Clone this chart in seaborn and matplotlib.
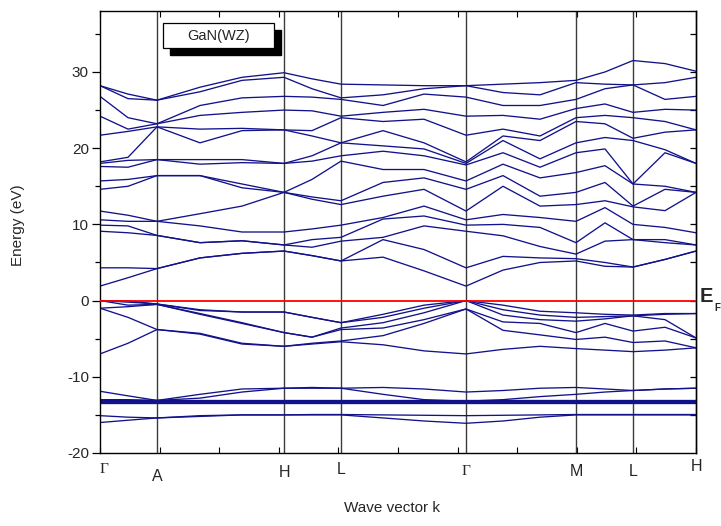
import numpy as np
import pandas as pd
import matplotlib
matplotlib.use("Agg")
import matplotlib.pyplot as plt
import seaborn as sns
from matplotlib.patches import Rectangle

# ---------------- data ----------------
# k coordinate of every node along the path (arbitrary units)
k_nodes = [0, 28, 57, 100, 142, 184, 212, 241, 283, 324, 366, 403, 440, 476, 505, 533, 565, 596]
sym_k = [0, 57, 184, 241, 366, 476, 533, 596]
sym_labels = ["\u0393", "A", "H", "L", "\u0393", "M", "L", "H"]

# conduction-band energies (eV) at each node, sorted
c_G1  = [1.9, 4.3, 9.1, 9.9, 10.6, 11.75, 14.6, 15.7, 17.6, 18.0, 18.2, 21.7, 24.2, 26.8, 28.2, 28.2]
c_GA  = [3.0, 4.3, 8.9, 9.8, 10.4, 11.2, 15.0, 15.9, 17.5, 18.4, 18.8, 22.2, 22.5, 24.0, 26.5, 27.1]
c_A   = [4.2, 4.2, 8.55, 8.55, 10.4, 10.4, 16.4, 16.4, 18.5, 18.5, 22.8, 22.8, 23.2, 23.2, 26.3, 26.3]
c_AH1 = [5.6, 5.6, 7.6, 7.6, 9.8, 11.4, 16.4, 16.4, 17.9, 18.5, 20.7, 22.5, 24.3, 25.6, 27.4, 28.0]
c_AH2 = [6.2, 6.2, 7.85, 7.85, 9.0, 12.4, 14.8, 15.3, 18.1, 18.5, 22.3, 22.6, 24.7, 26.6, 28.9, 29.3]
c_H1  = [6.5, 6.5, 7.3, 7.3, 9.0, 14.2, 14.2, 14.2, 18.0, 18.0, 22.4, 22.4, 25.0, 26.8, 29.3, 29.9]
c_HL  = [5.9, 5.9, 7.0, 8.0, 9.4, 13.3, 13.6, 15.9, 18.3, 19.0, 21.6, 22.3, 24.9, 26.7, 27.8, 29.1]
c_L1  = [5.2, 5.2, 7.8, 8.3, 9.9, 12.6, 13.1, 18.3, 19.0, 20.7, 20.7, 24.0, 24.2, 26.4, 26.6, 28.4]
c_LG1 = [5.7, 8.0, 8.3, 10.7, 10.9, 13.7, 15.5, 17.2, 19.6, 20.3, 22.3, 23.5, 24.7, 25.6, 27.0, 28.3]
c_LG2 = [3.9, 6.7, 9.8, 11.1, 12.4, 14.6, 16.1, 17.2, 19.0, 19.9, 20.7, 23.8, 25.1, 27.1, 27.8, 28.2]
c_G2  = [1.9, 4.3, 9.1, 9.9, 10.6, 11.75, 14.6, 15.7, 17.8, 18.0, 18.2, 21.7, 24.2, 26.7, 28.2, 28.2]
c_GM1 = [4.0, 5.8, 8.5, 10.0, 11.3, 15.0, 16.4, 17.9, 19.4, 21.0, 21.6, 22.5, 24.3, 25.6, 27.3, 28.4]
c_GM2 = [5.0, 5.6, 7.1, 9.6, 10.9, 12.4, 13.7, 16.1, 17.5, 18.6, 21.0, 21.6, 23.8, 25.6, 27.0, 28.6]
c_M   = [5.2, 5.5, 6.1, 7.6, 10.4, 12.6, 14.2, 16.8, 19.4, 20.7, 23.5, 24.0, 25.2, 26.4, 28.6, 28.9]
c_ML  = [4.5, 5.0, 7.8, 10.2, 12.2, 13.1, 15.5, 17.7, 19.9, 21.4, 23.2, 24.3, 25.8, 27.8, 28.4, 30.0]
c_L2  = [4.4, 4.4, 8.0, 8.0, 10.0, 12.3, 12.4, 15.3, 15.3, 21.0, 21.3, 24.0, 24.7, 28.3, 28.3, 31.5]
c_LH  = [5.4, 5.4, 7.6, 8.0, 9.6, 11.8, 14.6, 15.0, 19.4, 19.8, 22.1, 23.5, 25.1, 26.4, 28.6, 31.1]
c_H2  = [6.5, 6.5, 7.3, 7.3, 8.9, 14.2, 14.2, 14.2, 18.0, 18.0, 22.4, 22.4, 25.0, 26.8, 29.3, 30.1]

# valence-band energies (eV) at each node, sorted
v_G1  = [-7.0, -1.0, -1.0, 0.0, 0.0, 0.0]
v_GA  = [-5.6, -2.2, -0.8, -0.6, -0.2, -0.05]
v_A   = [-3.8, -3.8, -0.5, -0.5, -0.45, -0.45]
v_AH1 = [-4.4, -4.3, -1.8, -1.7, -1.3, -1.2]
v_AH2 = [-5.7, -5.6, -3.0, -2.9, -1.5, -1.5]
v_H1  = [-6.0, -6.0, -4.2, -4.2, -1.5, -1.5]
v_HL  = [-5.7, -5.6, -4.8, -4.8, -2.2, -2.2]
v_L1  = [-5.4, -5.3, -3.8, -3.6, -2.9, -2.9]
v_LG1 = [-5.8, -4.6, -3.6, -2.9, -2.2, -1.8]
v_LG2 = [-6.6, -3.0, -2.5, -1.6, -1.0, -0.6]
v_G2  = [-7.0, -1.1, -1.1, 0.0, 0.0, 0.0]
v_GM1 = [-6.4, -3.9, -2.8, -1.9, -1.2, -0.6]
v_GM2 = [-6.0, -4.5, -3.0, -2.5, -1.9, -1.4]
v_M   = [-6.3, -5.1, -4.2, -2.7, -2.2, -1.6]
v_ML  = [-6.5, -4.8, -3.0, -2.4, -2.1, -1.8]
v_L2  = [-6.7, -5.5, -4.0, -2.0, -2.0, -1.9]
v_LH  = [-6.5, -5.3, -3.5, -2.5, -1.8, -1.7]
v_H2  = [-6.2, -6.2, -4.9, -4.9, -1.7, -1.7]

# semicore bands (eV) along the path
n1 = [-16.0, -15.7, -15.4, -15.2, -15.0, -15.0, -15.0, -15.0, -15.4, -15.8, -16.1, -15.8, -15.3, -15.0, -15.0, -15.0, -15.0, -15.0]
n2 = [-15.1, -15.3, -15.4, -15.1, -15.0, -15.0, -14.95, -14.95, -15.0, -15.05, -15.1, -15.05, -15.0, -14.95, -14.95, -14.95, -14.95, -14.95]
d1 = [-13.5] * 18
d2 = [-13.35] * 18
d3 = [-13.2] * 18
d4 = [-13.05] * 18
u2 = [-13.0, -13.0, -13.1, -12.8, -12.0, -11.5, -11.5, -11.5, -12.3, -13.0, -13.2, -13.0, -12.6, -12.3, -12.0, -11.8, -11.6, -11.5]
u1 = [-11.9, -12.5, -13.1, -12.3, -11.6, -11.5, -11.4, -11.5, -11.4, -11.6, -12.0, -11.8, -11.5, -11.4, -11.6, -11.8, -11.6, -11.5]

cond_nodes = [c_G1, c_GA, c_A, c_AH1, c_AH2, c_H1, c_HL, c_L1, c_LG1, c_LG2,
              c_G2, c_GM1, c_GM2, c_M, c_ML, c_L2, c_LH, c_H2]
val_nodes = [v_G1, v_GA, v_A, v_AH1, v_AH2, v_H1, v_HL, v_L1, v_LG1, v_LG2,
             v_G2, v_GM1, v_GM2, v_M, v_ML, v_L2, v_LH, v_H2]
core_bands = [n1, n2, d1, d2, d3, d4, u2, u1]

rows = []
for i, k in enumerate(k_nodes):
    for j, e in enumerate(sorted(cond_nodes[i])):
        rows.append({"k": k, "E": e, "band": f"c{j}"})
    for j, e in enumerate(sorted(val_nodes[i])):
        rows.append({"k": k, "E": e, "band": f"v{j}"})
    for j, b in enumerate(core_bands):
        rows.append({"k": k, "E": b[i], "band": f"s{j}"})
df = pd.DataFrame(rows)

# ---------------- plot ----------------
sns.set_theme(style="white")
plt.rcParams["font.family"] = ["Liberation Sans", "DejaVu Sans"]
plt.rcParams["axes.unicode_minus"] = False

W, H = 721, 526
fig = plt.figure(figsize=(W / 100, H / 100), dpi=100)
ax = fig.add_axes([100 / W, 1 - 453 / H, 596 / W, 442 / H])

band_color = "#12128a"
sns.lineplot(data=df, x="k", y="E", units="band", estimator=None, sort=True,
             color=band_color, lw=0.95, ax=ax, legend=False)

for kx in sym_k[1:-1]:
    ax.axvline(kx, color="#3c3c3c", lw=1.0, zorder=1)
ax.axhline(0, color="#ff0000", lw=1.3, zorder=3)

ax.set_xlim(sym_k[0], sym_k[-1])
ax.set_ylim(-20, 38)
ax.set_xlabel("")
ax.set_ylabel("")

for s in ax.spines.values():
    s.set_visible(True)
    s.set_color("black")
    s.set_linewidth(1.0)

ax.set_xticks(np.linspace(sym_k[0], sym_k[-1], 11))
ax.set_xticklabels([])
ax.tick_params(axis="x", direction="in", length=4, width=0.8, top=True, bottom=True, color="black")
ax.set_yticks([-20, -10, 0, 10, 20, 30])
ax.set_yticks([-15, -5, 5, 15, 25, 35], minor=True)
ax.tick_params(axis="y", which="major", direction="out", length=6, width=0.9, left=True,
               labelsize=11, pad=2, color="black")
ax.tick_params(axis="y", which="minor", direction="out", length=3.5, width=0.9, left=True, color="black")

sec = ax.secondary_yaxis("right")
sec.set_yticks([-15, -10, -5, 0, 5, 10, 15, 20, 25, 30, 35])
sec.set_yticklabels([])
sec.tick_params(direction="in", length=4, width=0.9, color="black")
sec.spines["right"].set_linewidth(1.0)

# high-symmetry labels
lab_dy = [-0.038, -0.054, -0.043, -0.038, -0.041, -0.041, -0.041, -0.030]
for kx, lab, dy in zip(sym_k, sym_labels, lab_dy):
    if lab == "\u0393":
        ax.text(kx + 4 if kx == 0 else kx, dy, lab, transform=ax.get_xaxis_transform(),
                ha="center", va="center", fontsize=11, family="Liberation Serif")
    else:
        ax.text(kx, dy, lab, transform=ax.get_xaxis_transform(),
                ha="center", va="center", fontsize=11.5)

fig.text(392 / W, 1 - 508 / H, "Wave vector k", ha="center", va="center", fontsize=11)
fig.text(18 / W, 1 - 225 / H, "Energy (eV)", ha="center", va="center", rotation=90, fontsize=11)

# E_F label
fig.text(700 / W, 1 - 296 / H, "E", ha="left", va="center", fontsize=14.5, fontweight="bold")
fig.text(714 / W, 1 - 308 / H, "F", ha="left", va="center", fontsize=7, fontweight="bold")

# legend box with shadow
fig.patches.append(Rectangle((170 / W, 1 - 55 / H), 111 / W, 25 / H, transform=fig.transFigure,
                             facecolor="black", edgecolor="black", zorder=5))
fig.patches.append(Rectangle((163 / W, 1 - 48 / H), 111 / W, 25 / H, transform=fig.transFigure,
                             facecolor="white", edgecolor="black", lw=0.9, zorder=6))
fig.text(218.5 / W, 1 - 36 / H, "GaN(WZ)", ha="center", va="center", fontsize=10.5, zorder=7)

fig.savefig("out.png", dpi=100)
